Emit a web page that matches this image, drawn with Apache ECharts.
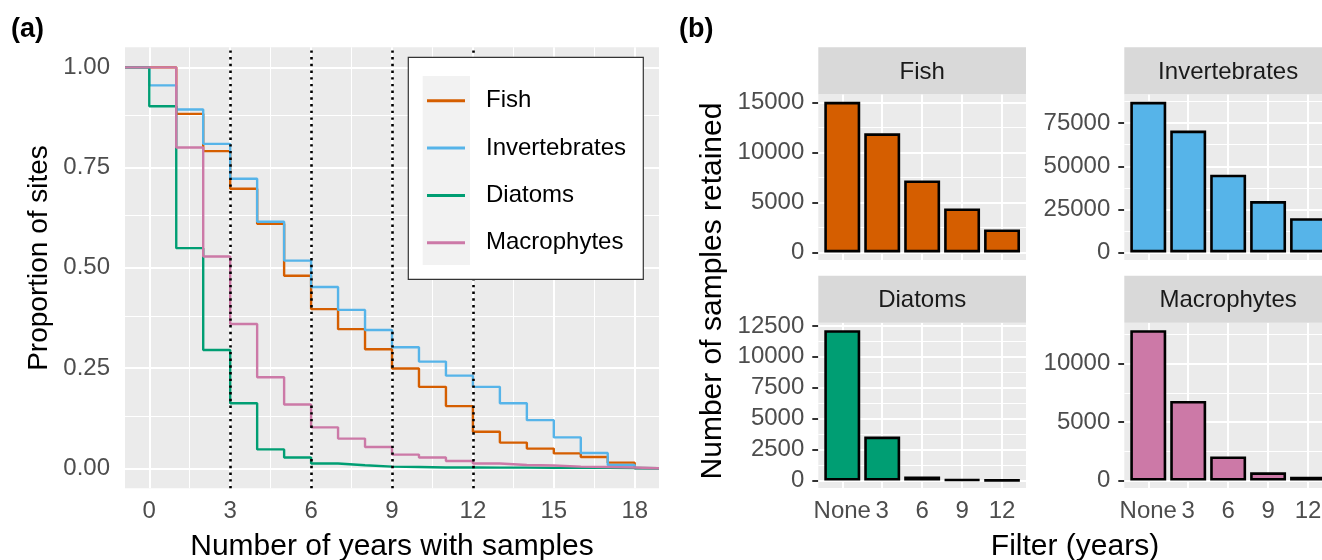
<!DOCTYPE html>
<html>
<head>
<meta charset="utf-8">
<script src="https://cdn.jsdelivr.net/npm/echarts@6/dist/echarts.min.js"></script>
<style>
  html, body { margin: 0; padding: 0; background: #ffffff; }
  #chart { width: 1322px; height: 560px; }
</style>
</head>
<body>
<div id="chart"></div>
<script>
// ---------- Panel (a): proportion of sites with more than k years sampled ----------
// value i holds the proportion on the interval [years[i], years[i] + 1)
const years = [0, 1, 2, 3, 4, 5, 6, 7, 8, 9, 10, 11, 12, 13, 14, 15, 16, 17, 18];
const fishProp    = [1.00, 0.884, 0.791, 0.697, 0.610, 0.480, 0.397, 0.347, 0.297, 0.249, 0.203, 0.155, 0.091, 0.064, 0.049, 0.037, 0.028, 0.014, 0];
const invertProp  = [0.955, 0.895, 0.809, 0.722, 0.615, 0.518, 0.452, 0.395, 0.345, 0.302, 0.266, 0.231, 0.203, 0.162, 0.120, 0.077, 0.038, 0.008, 0];
const diatomProp  = [0.903, 0.549, 0.295, 0.162, 0.047, 0.027, 0.012, 0.0075, 0.004, 0.003, 0.002, 0.002, 0.0015, 0.0015, 0.001, 0.001, 0.001, 0.0005, 0];
const macroProp   = [1.00, 0.800, 0.528, 0.360, 0.227, 0.159, 0.102, 0.074, 0.053, 0.034, 0.027, 0.018, 0.012, 0.008, 0.007, 0.004, 0.003, 0.002, 0];
const yearTicks   = [0, 3, 6, 9, 12, 15, 18];
const propTicks   = [0, 0.25, 0.5, 0.75, 1];
const filterYears = [3, 6, 9, 12];

// ---------- Panel (b): samples retained under each filter ----------
const filterLabels  = ['None', '3', '6', '9', '12'];
const fishSamples   = [15050, 11900, 7200, 4400, 2300];
const invertSamples = [87400, 70700, 45100, 29800, 19900];
const diatomSamples = [12150, 3550, 330, 70, 25];
const macroSamples  = [12850, 6800, 2050, 700, 330];
const fishTicks   = [0, 5000, 10000, 15000];
const invertTicks = [0, 25000, 50000, 75000];
const diatomTicks = [0, 2500, 5000, 7500, 10000, 12500];
const macroTicks  = [0, 5000, 10000];

const groupNames = ['Fish', 'Invertebrates', 'Diatoms', 'Macrophytes'];
const groupColors = ['#D55E00', '#56B4E9', '#009E73', '#CC79A7'];

const FONT = 'Liberation Sans, Arial, Helvetica, sans-serif';
const TICK_COLOR = '#4D4D4D';
const TICK_SIZE = 24;
const PANEL_BG = '#EBEBEB';
const STRIP_BG = '#D9D9D9';

// ggplot-like continuous expansion (5% each side)
const expand = (lo, hi) => { const d = (hi - lo) * 0.05; return [lo - d, hi + d]; };

// midpoints between major ticks that fall inside the axis range
function minorTicks(ticks, lo, hi) {
  const step = ticks[1] - ticks[0];
  const out = [];
  for (let v = ticks[0] - step / 2; v < hi; v += step) {
    if (v > lo && v < hi) out.push(v);
  }
  return out;
}

// white panel grid drawn as mark lines on an empty helper series
function gridLineSeries(xi, yi, majorX, minorX, majorY, minorY) {
  const d = [];
  minorX.forEach(v => d.push({ xAxis: v, lineStyle: { color: '#FFFFFF', width: 1, type: 'solid' } }));
  minorY.forEach(v => d.push({ yAxis: v, lineStyle: { color: '#FFFFFF', width: 1, type: 'solid' } }));
  majorX.forEach(v => d.push({ xAxis: v, lineStyle: { color: '#FFFFFF', width: 2, type: 'solid' } }));
  majorY.forEach(v => d.push({ yAxis: v, lineStyle: { color: '#FFFFFF', width: 2, type: 'solid' } }));
  return {
    type: 'line', xAxisIndex: xi, yAxisIndex: yi, data: [], silent: true, z: 1,
    markLine: { silent: true, symbol: 'none', z: 1, animation: false, label: { show: false },
                emphasis: { disabled: true }, data: d }
  };
}

const tickLine = { color: '#333333', width: 2 };
const grids = [], xAxes = [], yAxes = [], series = [], graphics = [];

// ---------- panel (a) layout ----------
const A = { left: 125, top: 47.3, width: 534, height: 441 };
const xRangeA = expand(0, 18);
const yRangeA = expand(0, 1);
grids.push({ left: A.left, top: A.top, width: A.width, height: A.height, show: true,
             outerBoundsMode: 'none', containLabel: false,
             backgroundColor: PANEL_BG, borderWidth: 0 });
xAxes.push({
  type: 'value', gridIndex: 0, min: xRangeA[0], max: xRangeA[1],
  axisLine: { show: false }, splitLine: { show: false },
  axisTick: { show: true, customValues: yearTicks, length: 6, lineStyle: tickLine },
  axisLabel: { show: true, customValues: yearTicks, margin: 11, fontSize: TICK_SIZE, color: TICK_COLOR, fontFamily: FONT,
               formatter: v => String(v) }
});
yAxes.push({
  type: 'value', gridIndex: 0, min: yRangeA[0], max: yRangeA[1],
  axisLine: { show: false }, splitLine: { show: false },
  axisTick: { show: true, customValues: propTicks, length: 6, lineStyle: tickLine },
  axisLabel: { show: true, customValues: propTicks, margin: 15, fontSize: TICK_SIZE, color: TICK_COLOR, fontFamily: FONT,
               formatter: v => v.toFixed(2) }
});
series.push(gridLineSeries(0, 0, yearTicks, minorTicks(yearTicks, xRangeA[0], xRangeA[1]),
                           propTicks, minorTicks(propTicks, yRangeA[0], yRangeA[1])));

// survival-style step curves, padded to the panel edges like an ECDF
[fishProp, invertProp, diatomProp, macroProp].forEach((vals, i) => {
  const pts = [[xRangeA[0], 1]];
  years.forEach((y, k) => pts.push([y, vals[k]]));
  pts.push([xRangeA[1], vals[vals.length - 1]]);
  series.push({
    name: groupNames[i], type: 'line', xAxisIndex: 0, yAxisIndex: 0, step: 'end',
    data: pts, showSymbol: false, symbol: 'none', clip: true, z: 2 + i * 0.1,
    color: groupColors[i],
    lineStyle: { color: groupColors[i], width: 2.4 },
    emphasis: { disabled: true }, animation: false
  });
});

// dotted reference lines at the filter thresholds
series.push({
  type: 'line', xAxisIndex: 0, yAxisIndex: 0, data: [], silent: true, z: 4,
  markLine: {
    silent: true, symbol: 'none', z: 4, animation: false, label: { show: false },
    emphasis: { disabled: true },
    lineStyle: { color: '#000000', width: 2.6, type: [2.4, 4.3], cap: 'butt' },
    data: filterYears.map(v => ({ xAxis: v }))
  }
});

// ---------- panel (b) layout: 2 x 2 facets ----------
const PW = 207.7, STRIP_H = 47;
const barPanels = [
  { name: 'Fish',          values: fishSamples,   ticks: fishTicks,   left: 818.3,  top: 94.3,  height: 165.7, bottom: false, color: groupColors[0] },
  { name: 'Invertebrates', values: invertSamples, ticks: invertTicks, left: 1124.3, top: 94.3,  height: 165.7, bottom: false, color: groupColors[1] },
  { name: 'Diatoms',       values: diatomSamples, ticks: diatomTicks, left: 818.3,  top: 322.7, height: 165.3, bottom: true,  color: groupColors[2] },
  { name: 'Macrophytes',   values: macroSamples,  ticks: macroTicks,  left: 1124.3, top: 322.7, height: 165.3, bottom: true,  color: groupColors[3] }
];
const catPos = filterLabels.map((_, i) => i + 1);

barPanels.forEach((p, j) => {
  const gi = j + 1;
  const yr = expand(0, Math.max(...p.values));
  const xr = [0.4, filterLabels.length + 0.6];
  grids.push({ left: p.left, top: p.top, width: PW, height: p.height, show: true,
               outerBoundsMode: 'none', containLabel: false,
               backgroundColor: PANEL_BG, borderWidth: 0 });
  xAxes.push({
    type: 'value', gridIndex: gi, min: xr[0], max: xr[1],
    axisLine: { show: false }, splitLine: { show: false },
    axisTick: { show: p.bottom, customValues: catPos, length: 6, lineStyle: tickLine },
    axisLabel: { show: p.bottom, customValues: catPos, margin: 11, fontSize: TICK_SIZE, color: TICK_COLOR, fontFamily: FONT,
                 formatter: v => filterLabels[Math.round(v) - 1] }
  });
  yAxes.push({
    type: 'value', gridIndex: gi, min: yr[0], max: yr[1],
    axisLine: { show: false }, splitLine: { show: false },
    axisTick: { show: true, customValues: p.ticks, length: 6, lineStyle: tickLine },
    axisLabel: { show: true, customValues: p.ticks, margin: 14, fontSize: TICK_SIZE, color: TICK_COLOR, fontFamily: FONT,
                 formatter: v => String(v) }
  });
  series.push(gridLineSeries(gi, gi, catPos, [], p.ticks, minorTicks(p.ticks, yr[0], yr[1])));
  series.push({
    name: p.name + ' samples', type: 'bar', xAxisIndex: gi, yAxisIndex: gi,
    data: p.values.map((v, i) => [catPos[i], v]),
    barWidth: '90%', z: 2, animation: false, emphasis: { disabled: true },
    itemStyle: { color: p.color, borderColor: '#000000', borderWidth: 2.6 }
  });
  // facet strip
  graphics.push({
    type: 'rect', z: 5, silent: true,
    shape: { x: p.left, y: p.top - STRIP_H, width: PW, height: STRIP_H },
    style: { fill: STRIP_BG }
  });
  graphics.push({
    type: 'text', z: 6, silent: true,
    x: p.left + PW / 2, y: p.top - STRIP_H / 2 + 1.5,
    style: { text: p.name, fill: '#1A1A1A', font: '24px ' + FONT, align: 'center', verticalAlign: 'middle' }
  });
});

// ---------- titles and panel tags ----------
graphics.push(
  { type: 'text', z: 6, silent: true, x: 11, y: 30,
    style: { text: '(a)', fill: '#000', font: 'bold 27px ' + FONT, align: 'left', verticalAlign: 'middle' } },
  { type: 'text', z: 6, silent: true, x: 679, y: 30,
    style: { text: '(b)', fill: '#000', font: 'bold 27px ' + FONT, align: 'left', verticalAlign: 'middle' } },
  { type: 'text', z: 6, silent: true, x: A.left + A.width / 2, y: 546.5,
    style: { text: 'Number of years with samples', fill: '#000', font: '30px ' + FONT, align: 'center', verticalAlign: 'middle' } },
  { type: 'text', z: 6, silent: true, x: 39, y: 258, rotation: Math.PI / 2,
    style: { text: 'Proportion of sites', fill: '#000', font: '28px ' + FONT, align: 'center', verticalAlign: 'middle' } },
  { type: 'text', z: 6, silent: true, x: 713, y: 291, rotation: Math.PI / 2,
    style: { text: 'Number of samples retained', fill: '#000', font: '30px ' + FONT, align: 'center', verticalAlign: 'middle' } },
  { type: 'text', z: 6, silent: true, x: 1075, y: 546.5,
    style: { text: 'Filter (years)', fill: '#000', font: '30px ' + FONT, align: 'center', verticalAlign: 'middle' } }
);

// legend frame and key background
graphics.push(
  { type: 'rect', z: 10, silent: true,
    shape: { x: 408.3, y: 57.3, width: 235, height: 222 },
    style: { fill: '#FFFFFF', stroke: '#333333', lineWidth: 1.2 } },
  { type: 'rect', z: 11, silent: true,
    shape: { x: 422.7, y: 76, width: 47.3, height: 189 },
    style: { fill: '#F2F2F2' } }
);

const chart = echarts.init(document.getElementById('chart'), null, { renderer: 'canvas' });
chart.setOption({
  animation: false,
  backgroundColor: '#FFFFFF',
  grid: grids,
  xAxis: xAxes,
  yAxis: yAxes,
  legend: {
    data: groupNames, orient: 'vertical', left: 427, top: 87.8, padding: 0,
    icon: 'rect', itemWidth: 38, itemHeight: 3, itemGap: 21.3, z: 12,
    selectedMode: false,
    textStyle: { fontSize: 24, color: '#000000', fontFamily: FONT, lineHeight: 26, padding: [0, 0, 0, 16] }
  },
  graphic: { elements: graphics },
  series: series
});
</script>
</body>
</html>
